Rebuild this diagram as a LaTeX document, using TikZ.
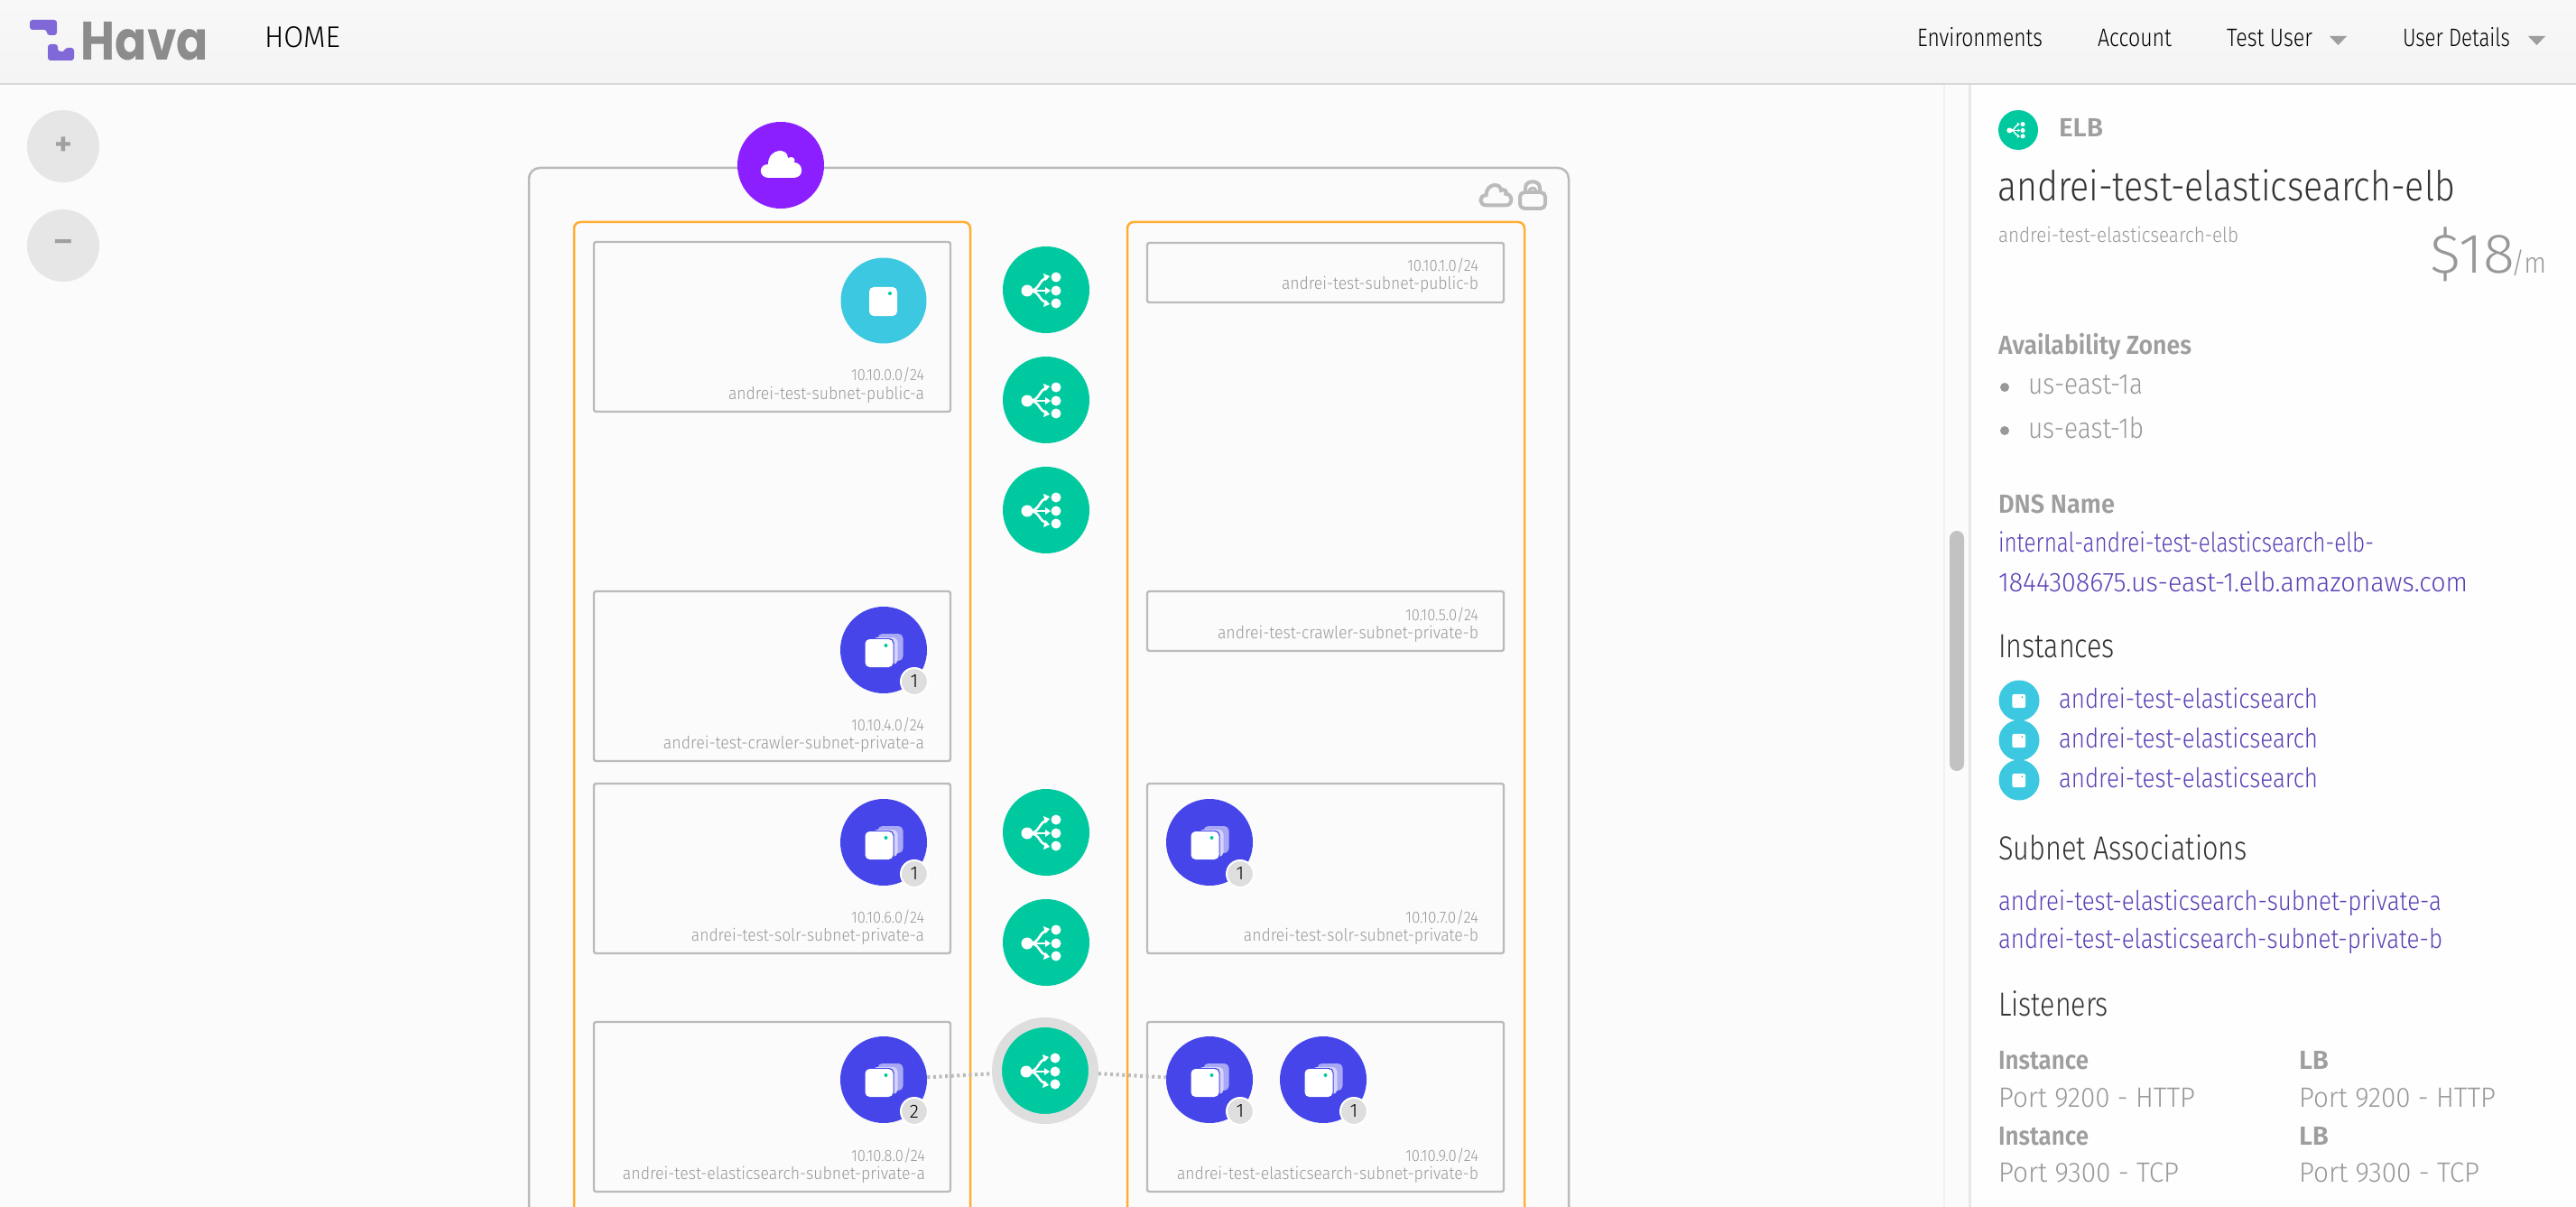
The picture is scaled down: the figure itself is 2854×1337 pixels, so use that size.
\documentclass[tikz,border=0pt]{standalone}
\usepackage{fontspec}
\usepackage{graphicx}
\setmainfont{Fira Sans Light}[BoldFont={Fira Sans SemiBold}]
\newfontfamily\logofont{Poppins}
\definecolor{canvasc}{HTML}{FBFBFB}
\definecolor{panelc}{HTML}{FEFEFE}
\definecolor{hdrtop}{HTML}{F8F8F8}
\definecolor{hdrbot}{HTML}{F4F4F4}
\definecolor{hdrline}{HTML}{D8D8D8}
\definecolor{btnc}{HTML}{E6E6E6}
\definecolor{btntxt}{HTML}{A0A0A0}
\definecolor{boxc}{HTML}{BBBBBB}
\definecolor{azc}{HTML}{FFAD33}
\definecolor{elbc}{HTML}{00C9A0}
\definecolor{instc}{HTML}{3CC8E0}
\definecolor{groupc}{HTML}{4545EA}
\definecolor{vpcc}{HTML}{8B1FFF}
\definecolor{ringc}{HTML}{DEDEDE}
\definecolor{greyt}{HTML}{989898}
\definecolor{boldt}{HTML}{9E9E9E}
\definecolor{darkt}{HTML}{333333}
\definecolor{linkt}{HTML}{5B3FB5}
\definecolor{logoc}{HTML}{8068D8}
\definecolor{logot}{HTML}{8C8C8C}
\definecolor{laya}{HTML}{A8A8F5}
\definecolor{layb}{HTML}{D4D4FC}
\tikzset{
  txt/.style={inner sep=0pt,outer sep=0pt},
  zoombtn/.style={circle,fill=btnc,minimum size=40pt,inner sep=0pt,text=btntxt,font=\bfseries\fontsize{19pt}{19pt}\selectfont},
  vpcbox/.style={draw=boxc,line width=1.25pt,rounded corners=6pt,anchor=north west,inner sep=0pt,outer sep=0pt},
  azbox/.style={draw=azc,line width=1.25pt,rounded corners=3.5pt,anchor=north west,inner sep=0pt,outer sep=0pt},
  subnetbox/.style={draw=boxc,line width=1.2pt,rounded corners=1.2pt,anchor=north west,inner sep=0pt,outer sep=0pt,minimum width=197.5pt},
  elbnode/.style={circle,fill=elbc,minimum size=48pt,inner sep=0pt},
  elbsel/.style={circle,fill=elbc,draw=ringc,line width=5.5pt,minimum size=53.5pt,inner sep=0pt},
  instnode/.style={circle,fill=instc,minimum size=47.5pt,inner sep=0pt},
  groupnode/.style={circle,fill=groupc,minimum size=48pt,inner sep=0pt},
  badge/.style={circle,fill=ringc,draw=white,line width=1pt,minimum size=15pt,inner sep=0pt,text=black,font=\fontsize{10.5pt}{10.5pt}\selectfont},
  dotlink/.style={draw=boxc,line width=2pt,dash pattern=on 1.5pt off 1.8pt},
  pics/elbglyph/.style={code={
    \fill[white] (-21,1) circle (6.5) (11,-14) circle (5.5) (11,1) circle (5.5) (11,15) circle (5.5);
    \draw[white,line width=#1] (-18,1) -- (1,1);
    \draw[white,line width=#1] (-18,1) .. controls (-7,1) and (-8,-12) .. (1,-13);
    \draw[white,line width=#1] (-18,1) .. controls (-7,1) and (-8,13) .. (1,14);
    \fill[white] (5,1) -- (-1,-3) -- (-1,5) -- cycle;
    \fill[white] (4,-15) -- (-3,-18) -- (-1,-10) -- cycle;
    \fill[white] (4,16) -- (-3,19) -- (-1,11) -- cycle;
  }},
  pics/singleglyph/.style={code={
    \fill[white,rounded corners=#1] (-16,-15) rectangle (15,17);
    \fill[elbc] (7,-8) circle (2);
  }},
  pics/groupglyph/.style={code={
    \fill[laya,rounded corners=2.5pt] (-6.5,-18) rectangle (21.5,12);
    \fill[layb,rounded corners=2.5pt] (-12.5,-14) rectangle (15.5,16);
    \fill[groupc,rounded corners=2.5pt] (-21.5,-13) rectangle (11.5,20);
    \fill[white,rounded corners=2.5pt] (-20.5,-12) rectangle (10.5,19);
    \fill[elbc] (2.5,-5) circle (2);
  }},
  pics/cloudglyph/.style={code={
    \path[#1] (-13,14) .. controls (-25,14) and (-25,-1) .. (-14,-1)
      .. controls (-14,-19) and (8,-20) .. (8,-8)
      .. controls (13,-11) and (17,-7) .. (15,-3)
      .. controls (25,-3) and (27,14) .. (14,14) -- cycle;
  }},
}
\newcommand\tx[7]{\node[txt,anchor=#2] (#1) at (#3) {\fontsize{#4pt}{#4pt}\selectfont\color{#6}\resizebox{\dimexpr #5pt/2\relax}{\height}{#7}};}
\begin{document}
\begin{tikzpicture}[x=0.5pt,y=-0.5pt]
\path[use as bounding box] (0,0) rectangle (2854,1337);
\clip (0,0) rectangle (2854,1337);
% canvas
\fill[canvasc] (0,0) rectangle (2854,1337);
% zoom buttons
\node[zoombtn] (zoomin) at (70,162) {+};
\node[zoombtn] (zoomout) at (70,272) {–};
% VPC
\node[vpcbox,minimum width=576pt,minimum height=700pt] (vpc) at (586,186) {};
\node[circle,fill=vpcc,minimum size=48pt,inner sep=0pt] (vpcicon) at (865,183) {};
\pic at (vpcicon) {cloudglyph={fill=white}};
\pic[scale=.75] at (1657,217) {cloudglyph={draw=boxc,line width=2pt}};
% lock
\draw[boxc,line width=2pt,rounded corners=2.5pt] (1684,213) rectangle (1712,231);
\draw[boxc,line width=2pt] (1690,213) -- (1690,208) .. controls (1690,199) and (1706,199) .. (1706,208) -- (1706,213);
\draw[boxc,line width=1.5pt] (1694,212) .. controls (1694,207) and (1702,207) .. (1702,212);
% AZs
\node[azbox,minimum width=219.5pt,minimum height=700pt] (azl) at (636,246) {};
\node[azbox,minimum width=220pt,minimum height=700pt] (azr) at (1249,246) {};
% subnets
\node[subnetbox,minimum height=94pt] (s0) at (658,268) {};
\node[subnetbox,minimum height=33pt] (s1) at (1271,269) {};
\node[subnetbox,minimum height=94pt] (s4) at (658,655) {};
\node[subnetbox,minimum height=33pt] (s5) at (1271,655) {};
\node[subnetbox,minimum height=94pt] (s6) at (658,868) {};
\node[subnetbox,minimum height=94pt] (s7) at (1271,868) {};
\node[subnetbox,minimum height=94pt] (s8) at (658,1132) {};
\node[subnetbox,minimum height=94pt] (s9) at (1271,1132) {};
% subnet labels
\tx{c0}{base east}{1024,422}{9}{81}{greyt}{10.10.0.0/24}
\tx{n0}{base east}{1024,442}{9.5}{217}{greyt}{andrei-test-subnet-public-a}
\tx{c1}{base east}{1638,301}{9}{79}{greyt}{10.10.1.0/24}
\tx{n1}{base east}{1638,321}{9.5}{218}{greyt}{andrei-test-subnet-public-b}
\tx{c4}{base east}{1024,809}{9}{81}{greyt}{10.10.4.0/24}
\tx{n4}{base east}{1024,829}{9.5}{289}{greyt}{andrei-test-crawler-subnet-private-a}
\tx{c5}{base east}{1638,687}{9}{81}{greyt}{10.10.5.0/24}
\tx{n5}{base east}{1638,707}{9.5}{289}{greyt}{andrei-test-crawler-subnet-private-b}
\tx{c6}{base east}{1024,1022}{9}{81}{greyt}{10.10.6.0/24}
\tx{n6}{base east}{1024,1042}{9.5}{258}{greyt}{andrei-test-solr-subnet-private-a}
\tx{c7}{base east}{1638,1022}{9}{81}{greyt}{10.10.7.0/24}
\tx{n7}{base east}{1638,1042}{9.5}{260}{greyt}{andrei-test-solr-subnet-private-b}
\tx{c8}{base east}{1025,1286}{9}{82}{greyt}{10.10.8.0/24}
\tx{n8}{base east}{1025,1306}{9.5}{335}{greyt}{andrei-test-elasticsearch-subnet-private-a}
\tx{c9}{base east}{1638,1286}{9}{81}{greyt}{10.10.9.0/24}
\tx{n9}{base east}{1638,1306}{9.5}{334}{greyt}{andrei-test-elasticsearch-subnet-private-b}
% instances
\node[instnode] (i0) at (979,333) {};
\pic at (i0) {singleglyph=2.5pt};
\node[groupnode] (g4) at (979,720) {};
\node[groupnode] (g6) at (979,933) {};
\node[groupnode] (g7) at (1340,933) {};
\node[groupnode] (g8) at (979,1196) {};
\node[groupnode] (g9a) at (1340,1196) {};
\node[groupnode] (g9b) at (1466,1196) {};
\foreach \g in {g4,g6,g7,g8,g9a,g9b}{\pic at (\g) {groupglyph};}
\node[badge] (b4) at (1013,755) {1};
\node[badge] (b6) at (1013,968) {1};
\node[badge] (b7) at (1374,968) {1};
\node[badge] (b8) at (1013,1231) {2};
\node[badge] (b9a) at (1374,1231) {1};
\node[badge] (b9b) at (1500,1231) {1};
% ELBs
\node[elbnode] (e1) at (1159,321) {};
\node[elbnode] (e2) at (1159,443) {};
\node[elbnode] (e3) at (1159,565) {};
\node[elbnode] (e4) at (1159,922) {};
\node[elbnode] (e5) at (1159,1044) {};
\node[elbsel] (e6) at (1158,1186) {};
\foreach \e in {e1,e2,e3,e4,e5,e6}{\pic at (\e) {elbglyph=1.3pt};}
\draw[dotlink] (g8) -- (e6);
\draw[dotlink] (e6) -- (g9a);
% right panel
\fill[canvasc] (2154,94) rectangle (2182,1337);
\fill[panelc] (2184,94) rectangle (2854,1337);
\draw[hdrline!60,line width=1.5pt] (2182.5,94) -- (2182.5,1337);
\draw[hdrline!35,line width=1pt] (2154,94) -- (2154,1337);
\fill[boxc!90,rounded corners=4pt] (2160,588) rectangle (2176,854);
\node[circle,fill=elbc,minimum size=22pt,inner sep=0pt] (pelb) at (2236,144) {};
\pic[scale=.46] at (pelb) {elbglyph=0.7pt};
\tx{pelbt}{base west}{2281,152}{14.5}{49}{boldt}{\bfseries ELB}
\tx{ptitle}{base west}{2213,223}{23}{507}{darkt}{andrei-test-elasticsearch-elb}
\tx{psub}{base west}{2214,269}{11.5}{266}{greyt}{andrei-test-elasticsearch-elb}
\tx{pprice}{base west}{2692,303}{31}{94}{greyt}{\$18}
\tx{pperm}{base west}{2782,303}{16}{39}{greyt}{/m}
\tx{paz}{base west}{2214,392}{14.5}{214}{boldt}{\bfseries Availability Zones}
\fill[greyt] (2221,429) circle (5) (2221,477) circle (5);
\tx{pz1}{base west}{2247,437}{16}{127}{greyt}{us-east-1a}
\tx{pz2}{base west}{2247,485}{16}{128}{greyt}{us-east-1b}
\tx{pdns}{base west}{2214,568}{14.5}{129}{boldt}{\bfseries DNS Name}
\tx{pl1}{base west}{2214,611}{15}{416}{linkt}{internal-andrei-test-elasticsearch-elb-}
\tx{pl2}{base west}{2214,655}{15}{520}{linkt}{1844308675.us-east-1.elb.amazonaws.com}
\tx{pinst}{base west}{2214,728}{18.5}{129}{darkt}{Instances}
\node[circle,fill=instc,minimum size=22.5pt,inner sep=0pt] (pi1) at (2237,776) {};
\node[circle,fill=instc,minimum size=22.5pt,inner sep=0pt] (pi2) at (2237,820) {};
\node[circle,fill=instc,minimum size=22.5pt,inner sep=0pt] (pi3) at (2237,864) {};
\foreach \p in {pi1,pi2,pi3}{\pic[scale=.48] at (\p) {singleglyph=1.2pt};}
\tx{pil1}{base west}{2281,784}{15}{287}{linkt}{andrei-test-elasticsearch}
\tx{pil2}{base west}{2281,828}{15}{287}{linkt}{andrei-test-elasticsearch}
\tx{pil3}{base west}{2281,872}{15}{287}{linkt}{andrei-test-elasticsearch}
\tx{psa}{base west}{2214,952}{18.5}{276}{darkt}{Subnet Associations}
\tx{psa1}{base west}{2214,1008}{15}{491}{linkt}{andrei-test-elasticsearch-subnet-private-a}
\tx{psa2}{base west}{2214,1050}{15}{492}{linkt}{andrei-test-elasticsearch-subnet-private-b}
\tx{plis}{base west}{2214,1125}{18.5}{122}{darkt}{Listeners}
\tx{pli1}{base west}{2214,1184}{14.5}{100}{boldt}{\bfseries Instance}
\tx{plb1}{base west}{2547,1184}{14.5}{33}{boldt}{\bfseries LB}
\tx{ppi1}{base west}{2214,1226}{15.5}{218}{greyt}{Port 9200 - HTTP}
\tx{ppb1}{base west}{2547,1226}{15.5}{218}{greyt}{Port 9200 - HTTP}
\tx{pli2}{base west}{2214,1268}{14.5}{100}{boldt}{\bfseries Instance}
\tx{plb2}{base west}{2547,1268}{14.5}{33}{boldt}{\bfseries LB}
\tx{ppi2}{base west}{2214,1309}{15.5}{200}{greyt}{Port 9300 - TCP}
\tx{ppb2}{base west}{2547,1309}{15.5}{200}{greyt}{Port 9300 - TCP}
% header
\shade[top color=hdrtop,bottom color=hdrbot] (0,0) rectangle (2854,92);
\draw[hdrline,line width=1.25pt] (0,93) -- (2854,93);
\fill[logoc,rounded corners=1.5pt] (33,22) -- (63,22) -- (63,39) -- (52,39) -- (52,33) -- (33,33) -- cycle;
\fill[logoc,rounded corners=1.5pt] (53,49) -- (64,49) -- (64,57) -- (72,57) -- (72,53) -- (82,53) -- (82,67) -- (53,67) -- cycle;
\tx{logo}{base west}{90,67}{30}{141}{logot}{\logofont\bfseries Hava}
\tx{home}{base west}{293,53}{16.5}{84}{black}{HOME}
\tx{nenv}{base west}{2124,52}{14}{139}{black}{Environments}
\tx{nacc}{base west}{2324,52}{14}{82}{black}{Account}
\tx{ntu}{base west}{2467,52}{14}{95}{black}{Test User}
\fill[boldt] (2581,40) -- (2600,40) -- (2590.5,50) -- cycle;
\tx{nud}{base west}{2662,52}{14}{119}{black}{User Details}
\fill[boldt] (2801,40) -- (2820,40) -- (2810.5,50) -- cycle;
\end{tikzpicture}
\end{document}
